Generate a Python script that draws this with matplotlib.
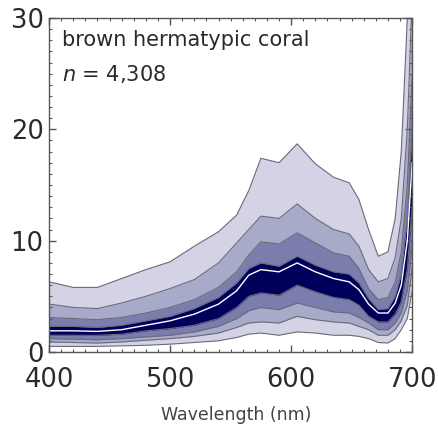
import matplotlib.pyplot as plt

# wavelength grid (nm) and percentile curves, top to bottom
wavelength = [400, 420, 440, 460, 480, 500, 520, 540, 555, 565, 575, 590, 605, 620,
              635, 648, 656, 664, 672, 680, 686, 691, 696, 700]
q1 = [6.3, 5.8, 5.8, 6.6, 7.4, 8.1, 9.5, 10.8, 12.3, 14.5, 17.4, 17.0, 18.7, 16.9,
      15.7, 15.2, 13.7, 11.0, 8.6, 9.0, 12.0, 18.0, 30.0, 45.0]
q2 = [4.3, 4.0, 3.9, 4.4, 5.0, 5.7, 6.5, 8.0, 9.8, 11.0, 12.2, 12.0, 13.3, 12.0,
      11.0, 10.6, 9.5, 7.4, 6.3, 6.6, 8.5, 12.0, 20.0, 32.0]
q3 = [3.1, 3.0, 2.9, 3.1, 3.5, 4.0, 4.7, 5.8, 7.2, 8.7, 9.9, 9.7, 10.7, 9.8,
      8.9, 8.6, 7.5, 5.7, 4.7, 4.9, 6.3, 9.0, 15.0, 25.0]
q4 = [2.3, 2.3, 2.2, 2.4, 2.8, 3.2, 3.9, 4.9, 6.2, 7.5, 8.0, 7.7, 8.6, 7.8,
      7.2, 7.0, 6.2, 4.8, 3.8, 3.9, 5.0, 7.0, 12.0, 20.0]
median = [1.9, 1.9, 1.85, 2.0, 2.4, 2.8, 3.4, 4.3, 5.5, 6.9, 7.4, 7.2, 8.0, 7.2,
          6.6, 6.3, 5.6, 4.3, 3.5, 3.5, 4.4, 6.0, 10.0, 17.0]
q6 = [1.5, 1.5, 1.5, 1.6, 1.9, 2.1, 2.4, 3.0, 4.0, 5.0, 5.3, 5.1, 6.0, 5.4,
      4.9, 4.7, 4.2, 3.2, 2.7, 2.7, 3.4, 4.5, 7.5, 13.0]
q7 = [1.2, 1.15, 1.1, 1.2, 1.35, 1.5, 1.8, 2.3, 3.0, 3.7, 4.0, 3.8, 4.4, 4.0,
      3.6, 3.5, 3.1, 2.6, 2.0, 2.0, 2.6, 3.5, 5.5, 9.5]
q8 = [0.9, 0.85, 0.8, 0.9, 1.05, 1.2, 1.4, 1.7, 2.2, 2.6, 2.7, 2.6, 3.2, 2.9,
      2.7, 2.6, 2.3, 2.0, 1.5, 1.5, 2.0, 2.8, 4.2, 7.5]
q9 = [0.5, 0.5, 0.5, 0.55, 0.6, 0.7, 0.85, 1.0, 1.3, 1.6, 1.7, 1.5, 1.8, 1.7,
      1.5, 1.5, 1.4, 1.2, 0.85, 0.8, 1.2, 2.0, 3.0, 5.5]

light = '#d3d3e5'
mid = '#a8aac9'
deep = '#7b7dac'
navy = '#00005c'
edge = '#6a6a78'

fig = plt.figure(figsize=(4.38, 4.34), dpi=100)
ax = fig.add_axes([0.112, 0.189, 0.829, 0.7695])

ax.fill_between(wavelength, q9, q1, color=light, lw=0)
ax.fill_between(wavelength, q8, q2, color=mid, lw=0)
ax.fill_between(wavelength, q7, q3, color=deep, lw=0)
ax.fill_between(wavelength, q6, q4, color=navy, lw=0)
for q in [q1, q2, q3, q4, q6, q7, q8, q9]:
    ax.plot(wavelength, q, color=edge, lw=0.8)
ax.plot(wavelength, median, color='white', lw=1.0)

ax.set_xlim(400, 700)
ax.set_ylim(0, 30)
ax.set_xticks([400, 500, 600, 700])
ax.set_yticks([0, 10, 20, 30])
ax.set_xticks(range(400, 701, 10), minor=True)
ax.set_yticks(range(0, 31), minor=True)
ax.tick_params(which='both', direction='in', top=True, right=True,
               colors='#555555', labelcolor='#2a2a2a', labelsize=18.5)
ax.tick_params(axis='x', pad=11)
ax.tick_params(axis='y', pad=4)
ax.tick_params(which='major', length=5, width=1)
ax.tick_params(which='minor', length=2.5, width=0.8)
for s in ax.spines.values():
    s.set_color('#555555')
    s.set_linewidth(1)

ax.text(0.035, 0.965, 'brown hermatypic coral', transform=ax.transAxes,
        fontsize=15, color='#2a2a2a', va='top', ha='left')
ax.text(0.035, 0.865, '$n$ = 4,308', transform=ax.transAxes,
        fontsize=15, color='#2a2a2a', va='top', ha='left')

fig.text(0.54, 0.043, 'Wavelength (nm)', fontsize=12.5, color='#444444',
         ha='center', va='center')

fig.savefig('out.png', dpi=100)
